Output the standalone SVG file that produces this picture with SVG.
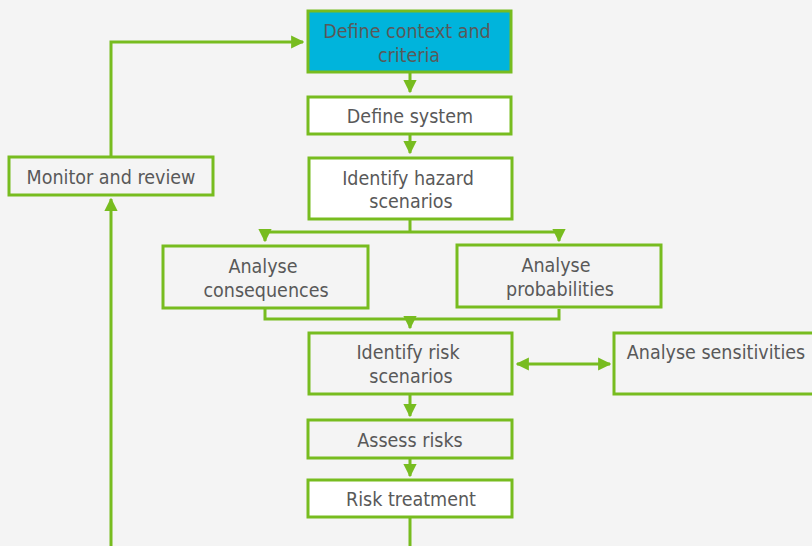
<svg xmlns="http://www.w3.org/2000/svg" width="812" height="546" viewBox="0 0 812 546">
  <defs>
    <marker id="arrow" viewBox="0 0 10 10" refX="9" refY="5" markerWidth="4.4" markerHeight="4.4" orient="auto-start-reverse" markerUnits="strokeWidth">
      <path d="M0,0 L10,5 L0,10 z" fill="#77bc1f"/>
    </marker>
    <style>
      .box { fill: #f4f4f4; stroke: #77bc1f; stroke-width: 3; }
      .white { fill: #ffffff; }
      .blue { fill: #00b4dc; }
      .lbl { font-family: "DejaVu Sans Condensed", "Liberation Sans", sans-serif; font-size: 19.5px; fill: #595959; text-anchor: middle; }
      .conn { fill: none; stroke: #77bc1f; stroke-width: 3; }
    </style>
  </defs>
  <rect width="812" height="546" fill="#f4f4f4"/>

  <g id="connectors">
    <path class="conn" d="M410,73 V92" marker-end="url(#arrow)"/>
    <path class="conn" d="M410,135 V153" marker-end="url(#arrow)"/>
    <path class="conn" d="M410,220 V232 M265,232 H559"/>
    <path class="conn" d="M265,232 V241" marker-end="url(#arrow)"/>
    <path class="conn" d="M559,232 V241" marker-end="url(#arrow)"/>
    <path class="conn" d="M265,309 V319 H559 V309"/>
    <path class="conn" d="M410,319 V328" marker-end="url(#arrow)"/>
    <path class="conn" d="M517,364 H610" marker-start="url(#arrow)" marker-end="url(#arrow)"/>
    <path class="conn" d="M410,395 V416" marker-end="url(#arrow)"/>
    <path class="conn" d="M410,459 V476" marker-end="url(#arrow)"/>
    <path class="conn" d="M410,518 V546"/>
    <path class="conn" d="M111,546 V199" marker-end="url(#arrow)"/>
    <path class="conn" d="M111,157 V42 H303" marker-end="url(#arrow)"/>
  </g>

  <g id="define-context">
    <rect class="box blue" x="308" y="11" width="203" height="61"/>
    <text class="lbl" x="407" y="38">Define context and</text>
    <text class="lbl" x="409" y="62">criteria</text>
  </g>
  <g id="define-system">
    <rect class="box white" x="308" y="97" width="203" height="37"/>
    <text class="lbl" x="410" y="123">Define system</text>
  </g>
  <g id="identify-hazard">
    <rect class="box white" x="309" y="158" width="203" height="61"/>
    <text class="lbl" x="408" y="185">Identify hazard</text>
    <text class="lbl" x="411" y="208">scenarios</text>
  </g>
  <g id="analyse-consequences">
    <rect class="box" x="163" y="246" width="205" height="62"/>
    <text class="lbl" x="263" y="273">Analyse</text>
    <text class="lbl" x="266" y="297">consequences</text>
  </g>
  <g id="analyse-probabilities">
    <rect class="box" x="457" y="245" width="204" height="62"/>
    <text class="lbl" x="556" y="272">Analyse</text>
    <text class="lbl" x="560" y="296">probabilities</text>
  </g>
  <g id="identify-risk">
    <rect class="box" x="309" y="333" width="203" height="61"/>
    <text class="lbl" x="408" y="359">Identify risk</text>
    <text class="lbl" x="411" y="383">scenarios</text>
  </g>
  <g id="analyse-sensitivities">
    <rect class="box" x="614" y="333" width="206" height="61"/>
    <text class="lbl" x="716" y="359">Analyse sensitivities</text>
  </g>
  <g id="assess-risks">
    <rect class="box" x="308" y="420" width="204" height="38"/>
    <text class="lbl" x="410" y="447">Assess risks</text>
  </g>
  <g id="risk-treatment">
    <rect class="box white" x="308" y="480" width="204" height="37"/>
    <text class="lbl" x="411" y="506">Risk treatment</text>
  </g>
  <g id="monitor-review">
    <rect class="box" x="9" y="157" width="204" height="38"/>
    <text class="lbl" x="111" y="184">Monitor and review</text>
  </g>
</svg>
